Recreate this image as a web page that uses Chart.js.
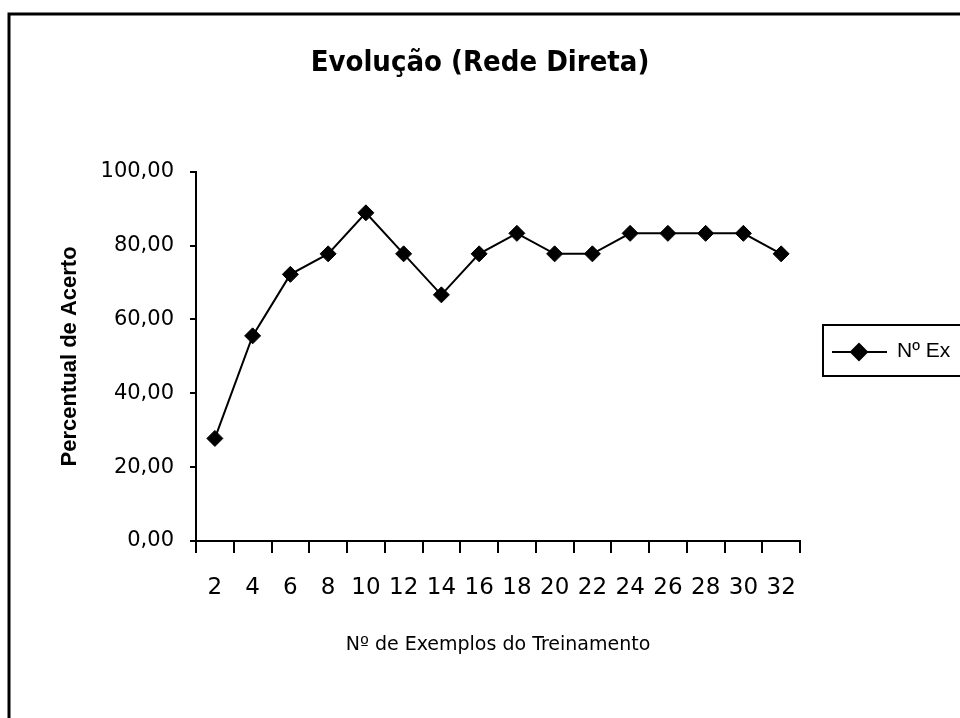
<!DOCTYPE html>
<html>
<head>
<meta charset="utf-8">
<title>Evolução (Rede Direta)</title>
<script src="https://cdn.jsdelivr.net/npm/chart.js@4.4.1/dist/chart.umd.min.js"></script>
<style>
    body { margin: 0; background: #fff; }
    #wrap { width: 960px; height: 718px; }
</style>
</head>
<body>
<div id="wrap"><canvas id="chart" width="960" height="718"></canvas></div>
<script>
// Data
const exemplos = ['2', '4', '6', '8', '10', '12', '14', '16', '18', '20', '22', '24', '26', '28', '30', '32'];
const acerto = [27.78, 55.56, 72.22, 77.78, 88.89, 77.78, 66.67, 77.78, 83.33, 77.78, 77.78, 83.33, 83.33, 83.33, 83.33, 77.78];
const serieNome = 'Nº Ex';

const sans = "'Liberation Sans', Arial, sans-serif";
const wide = "'DejaVu Sans', Verdana, sans-serif";

// Outer frame + legend box (cut off by the right edge, like the original)
const framePlugin = {
    id: 'frameAndLegend',
    afterDraw(chart) {
        const ctx = chart.ctx;
        ctx.save();
        ctx.strokeStyle = '#000';
        ctx.lineWidth = 3;
        ctx.beginPath();
        ctx.moveTo(9, 730);
        ctx.lineTo(9, 14);
        ctx.lineTo(970, 14);
        ctx.stroke();

        // legend
        ctx.lineWidth = 2;
        ctx.strokeRect(823, 325, 200, 51);
        ctx.beginPath();
        ctx.moveTo(832, 352);
        ctx.lineTo(887, 352);
        ctx.stroke();
        Chart.helpers.drawPoint(ctx, { pointStyle: 'rectRot', radius: 8, borderWidth: 1 }, 859, 352);
        ctx.fillStyle = '#000';
        ctx.fill();
        ctx.font = '21px ' + sans;
        ctx.textBaseline = 'middle';
        ctx.fillText(serieNome, 897, 351);
        ctx.restore();
    }
};

new Chart(document.getElementById('chart'), {
    type: 'line',
    data: {
        labels: exemplos,
        datasets: [{
            label: serieNome,
            data: acerto,
            borderColor: '#000',
            borderWidth: 2,
            backgroundColor: '#000',
            pointStyle: 'rectRot',
            pointRadius: 8,
            pointBorderWidth: 1,
            tension: 0
        }]
    },
    options: {
        responsive: false,
        animation: false,
        layout: { padding: 0 },
        scales: {
            x: {
                offset: true,
                afterFit(scale) { scale.height = 177; },
                grid: { display: true, drawOnChartArea: false, drawTicks: true, tickLength: 12, offset: true, color: '#000', lineWidth: 2 },
                border: { display: true, color: '#000', width: 2 },
                ticks: { color: '#000', font: { family: wide, size: 23 }, padding: 21, maxRotation: 0, autoSkip: false },
                title: {
                    display: true,
                    text: 'Nº de Exemplos do Treinamento',
                    color: '#000',
                    font: { family: wide, size: 19 },
                    padding: { top: 0, bottom: 62 }
                }
            },
            y: {
                min: 0,
                max: 100,
                afterFit(scale) { scale.width = 196; },
                grid: { display: true, drawOnChartArea: false, drawTicks: true, tickLength: 6, color: '#000', lineWidth: 2 },
                border: { display: true, color: '#000', width: 2 },
                ticks: {
                    stepSize: 20,
                    color: '#000',
                    padding: 16,
                    font: { family: wide, size: 21 },
                    callback: (v) => v.toFixed(2).replace('.', ',')
                },
                title: {
                    display: true,
                    text: 'Percentual de Acerto',
                    color: '#000',
                    font: { family: sans, size: 22, weight: 'bold' },
                    padding: { top: 57, bottom: 0 }
                }
            },
            // empty right-hand strip where the legend sits
            legendSpace: {
                position: 'right',
                afterFit(scale) { scale.width = 160; },
                grid: { display: false },
                border: { display: false },
                ticks: { display: false }
            }
        },
        plugins: {
            legend: { display: false },
            tooltip: { enabled: false },
            title: {
                display: true,
                text: 'Evolução (Rede Direta)',
                color: '#000',
                font: { family: "'DejaVu Sans Condensed', 'DejaVu Sans', sans-serif", size: 29, weight: 'bold' },
                padding: { top: 46, bottom: 91 }
            }
        }
    },
    plugins: [framePlugin]
});
</script>
</body>
</html>
